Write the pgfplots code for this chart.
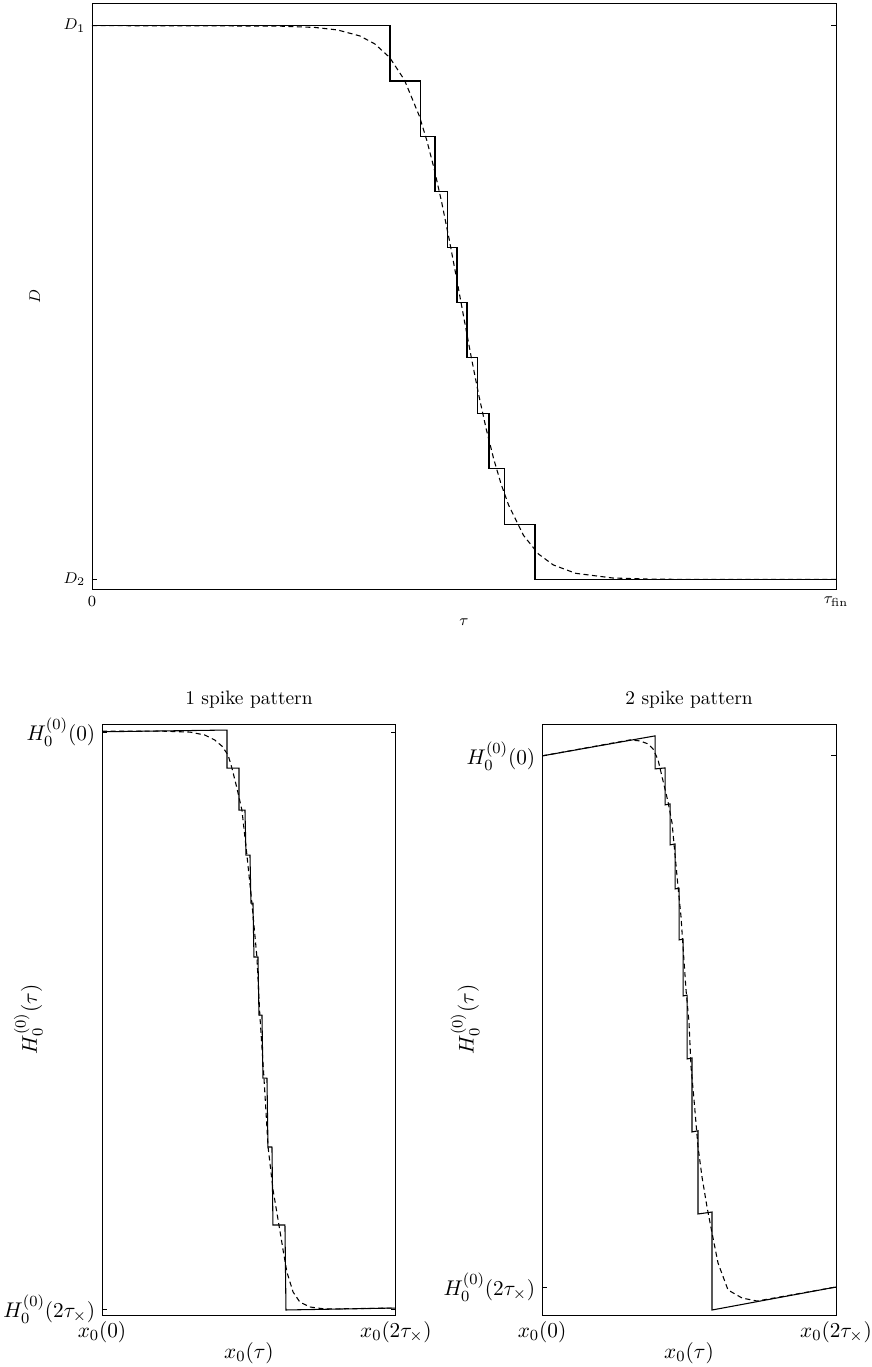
\documentclass[border=0pt]{standalone}
\usepackage{pgfplots}
\pgfplotsset{compat=1.18}

% layout in pixels, 1pt = 1.94px
\pgfplotsset{
  panel/.style={
    scale only axis, anchor=south west,
    axis line style={line width=0.5pt},
    tick align=inside, major tick length=2.5pt,
    tick style={black, line width=0.5pt},
    xmin=0, xmax=1, xtick={0,1}, ytick={0,1},
    every axis title shift=0pt,
  },
  stair/.style={black, line width=0.55pt},
  smooth curve/.style={black, line width=0.55pt, dash pattern=on 2.6pt off 1.8pt},
}

\begin{document}
\begin{tikzpicture}
\useasboundingbox (0,0) rectangle (449pt,704.6pt);

% ---- top panel: D(tau)
\begin{axis}[panel,
  at={(47.42pt,400.5pt)}, width=383.5pt, height=302.3pt,
  ymin=-0.019, ymax=1.040,
  xticklabels={$0$,$\tau_{\mathrm{fin}}$},
  yticklabels={$D_2$,$D_1$},
  font=\fontsize{8.3}{10}\selectfont,
  xlabel={$\tau$}, ylabel={$D$},
  xlabel style={at={(axis description cs:0.5,-0.0546)}, anchor=center},
  ylabel style={at={(axis description cs:-0.0767,0.5)}, anchor=center},
]
\addplot[stair] coordinates {
  (0,1)(0.4005,1)(0.4005,0.9)(0.4409,0.9)(0.4409,0.8)(0.461,0.8)
  (0.461,0.7)(0.4772,0.7)(0.4772,0.6)(0.4906,0.6)(0.4906,0.5)
  (0.504,0.5)(0.504,0.4)(0.5175,0.4)(0.5175,0.3)(0.5336,0.3)
  (0.5336,0.2)(0.5538,0.2)(0.5538,0.1)(0.5954,0.1)(0.5954,0)(1,0)};
\addplot[smooth curve] coordinates {
  (0,1)(0.25,0.9992)(0.30,0.9967)(0.33,0.9922)(0.36,0.9814)(0.38,0.9671)
  (0.40,0.9426)(0.42,0.9017)(0.44,0.8366)(0.45,0.7927)(0.46,0.7408)
  (0.47,0.6809)(0.48,0.6145)(0.49,0.5436)(0.50,0.4708)(0.51,0.3994)
  (0.52,0.3318)(0.53,0.2707)(0.54,0.2171)(0.55,0.1716)(0.56,0.1340)
  (0.58,0.0795)(0.60,0.0460)(0.62,0.0262)(0.65,0.0111)(0.70,0.0026)
  (0.75,0.0006)(0.80,0.0001)(1,0)};
\end{axis}

% ---- bottom left: 1 spike pattern
\begin{axis}[panel,
  at={(52.58pt,26.8pt)}, width=151.5pt, height=304.6pt,
  ymin=-0.0104, ymax=1.0139,
  font=\fontsize{11}{13}\selectfont,
  xticklabels={$x_0(0)$,$x_0(2\tau_\times)$},
  yticklabels={$H_0^{(0)}(2\tau_\times)$,$H_0^{(0)}(0)$},
  title={1 spike pattern},
  title style={at={(axis description cs:0.5,1)}, anchor=center, yshift=12.4pt, font=\fontsize{10}{12}\selectfont},
  xlabel={$x_0(\tau)$}, ylabel={$H_0^{(0)}(\tau)$},
  xlabel style={at={(axis description cs:0.5,0)}, anchor=center, yshift=-19.6pt},
  ylabel style={at={(axis description cs:-0.251,0.5)}, anchor=center},
]
\addplot[stair] coordinates {
  (0,1.0005)(0.4252,1.0035)(0.4252,0.9376)(0.466,0.9376)(0.466,0.8648)
  (0.4864,0.8648)(0.4898,0.7868)(0.5034,0.7868)(0.5068,0.7036)
  (0.5136,0.7036)(0.517,0.6101)(0.5306,0.6101)(0.534,0.5095)
  (0.5442,0.5095)(0.5476,0.4003)(0.5612,0.4003)(0.5646,0.2808)
  (0.5782,0.2808)(0.5816,0.1456)(0.6224,0.1456)(0.6259,-0.0017)(1,0.0017)};
\addplot[smooth curve] coordinates {
  (0,1.0017)(0.197,1.0017)(0.299,1.0)(0.350,0.9948)(0.384,0.9861)
  (0.408,0.9757)(0.429,0.9601)(0.442,0.9376)(0.459,0.9029)(0.476,0.8648)
  (0.493,0.7868)(0.510,0.7036)(0.527,0.6101)(0.537,0.5095)(0.551,0.4003)
  (0.565,0.2808)(0.582,0.2062)(0.602,0.1456)(0.616,0.1023)(0.629,0.0641)
  (0.650,0.0295)(0.673,0.0121)(0.707,0.0035)(0.759,0.0)(1,0.0017)};
\end{axis}

% ---- bottom right: 2 spike pattern
\begin{axis}[panel,
  at={(279.4pt,26.8pt)}, width=151.5pt, height=304.6pt,
  ymin=-0.0527, ymax=1.060,
  font=\fontsize{11}{13}\selectfont,
  xticklabels={$x_0(0)$,$x_0(2\tau_\times)$},
  yticklabels={$H_0^{(0)}(2\tau_\times)$,$H_0^{(0)}(0)$},
  title={2 spike pattern},
  title style={at={(axis description cs:0.5,1)}, anchor=center, yshift=12.4pt, font=\fontsize{10}{12}\selectfont},
  xlabel={$x_0(\tau)$}, ylabel={$H_0^{(0)}(\tau)$},
  xlabel style={at={(axis description cs:0.5,0)}, anchor=center, yshift=-19.6pt},
  ylabel style={at={(axis description cs:-0.262,0.5)}, anchor=center},
]
\addplot[stair] coordinates {
  (0,1.0)(0.3844,1.0377)(0.3844,0.9755)(0.4184,0.9774)(0.4184,0.9077)
  (0.4354,0.9096)(0.4354,0.8324)(0.4524,0.8343)(0.4524,0.7495)
  (0.466,0.7510)(0.466,0.6535)(0.4796,0.6550)(0.4796,0.548)
  (0.4932,0.5495)(0.4932,0.4294)(0.5102,0.4313)(0.5102,0.2919)
  (0.5306,0.2942)(0.5306,0.1375)(0.5782,0.1412)(0.5782,-0.0433)(1,0)};
\addplot[smooth curve] coordinates {
  (0,1.0)(0.2993,1.0301)(0.3333,1.0282)(0.3605,1.0226)(0.3776,1.0132)
  (0.3946,0.9925)(0.4116,0.9529)(0.4286,0.9134)(0.4422,0.8738)
  (0.4524,0.8136)(0.4626,0.7533)(0.4728,0.6968)(0.4796,0.6403)
  (0.4898,0.5593)(0.5,0.4972)(0.5068,0.4143)(0.517,0.3522)
  (0.5306,0.2637)(0.5442,0.2072)(0.5612,0.1507)(0.5782,0.1017)
  (0.5986,0.0452)(0.6327,-0.0056)(0.6803,-0.0207)(0.7313,-0.0264)(1,0)};
\end{axis}
\end{tikzpicture}
\end{document}
